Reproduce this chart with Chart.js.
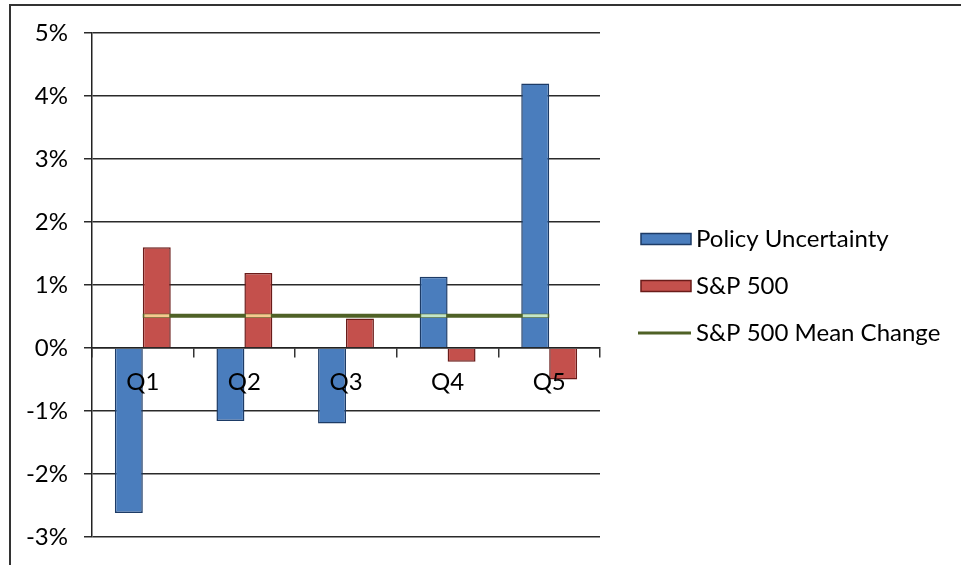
<!DOCTYPE html>
<html lang="en">
<head>
    <meta charset="UTF-8">
    <title>Policy Uncertainty vs S&amp;P 500</title>
    <script src="https://cdn.jsdelivr.net/npm/chart.js"></script>
    <style>
        html, body { margin: 0; padding: 0; background: #fff; }
        .wrap { position: relative; width: 961px; height: 565px; }
        .frame {
            position: absolute; left: 9px; top: 4px; right: 0; bottom: 0;
            border-left: 2px solid #333; border-top: 2px solid #333;
            pointer-events: none;
        }
    </style>
</head>
<body>
    <div class="wrap">
        <canvas id="quintileChart" width="961" height="565"></canvas>
        <div class="frame"></div>
    </div>

    <script>
        // quintile labels and % changes
        const quintiles = ['Q1', 'Q2', 'Q3', 'Q4', 'Q5'];
        const policyUncertainty = [-2.62, -1.16, -1.2, 1.13, 4.2];
        const sp500 = [1.6, 1.19, 0.47, -0.22, -0.5];
        const sp500Mean = [0.51, 0.51, 0.51, 0.51, 0.51];
        const yMin = -3;
        const yMax = 5;

        const textFont = { family: 'Lato', size: 24 };

        // light streak where the mean line crosses a bar
        const lineGlint = {
            id: 'lineGlint',
            afterDatasetsDraw(chart) {
                const c = chart.ctx;
                const pts = chart.getDatasetMeta(0).data;
                [[1, '#c4e6c8'], [2, '#f6c98f']].forEach(([idx, colour]) => {
                    chart.getDatasetMeta(idx).data.forEach(bar => {
                        const { x, y, base, width } = bar.getProps(['x', 'y', 'base', 'width'], true);
                        c.save();
                        c.beginPath();
                        c.rect(x - width / 2 + 1.5, Math.min(y, base), width - 3, Math.abs(base - y));
                        c.clip();
                        c.beginPath();
                        pts.forEach((p, i) => i ? c.lineTo(p.x, p.y) : c.moveTo(p.x, p.y));
                        c.strokeStyle = colour;
                        c.lineWidth = 3;
                        c.stroke();
                        c.restore();
                    });
                });
            }
        };

        // legend column to the right of the plot (built-in one is capped in width)
        const sideLegend = {
            id: 'sideLegend',
            afterDraw(chart) {
                const c = chart.ctx;
                const area = chart.chartArea;
                const left = area.right + 41;
                const midY = (area.top + area.bottom) / 2 + 1;
                const rowGap = 47;
                [1, 2, 0].forEach((idx, row) => {
                    const ds = chart.data.datasets[idx];
                    const y = Math.round(midY + (row - 1) * rowGap);
                    c.save();
                    if (ds.type === 'bar') {
                        c.fillStyle = ds.backgroundColor;
                        c.fillRect(left, y - 5.5, 50, 11);
                        c.strokeStyle = ds.borderColor;
                        c.lineWidth = 1.5;
                        c.strokeRect(left, y - 5.5, 50, 11);
                    } else {
                        c.strokeStyle = ds.borderColor;
                        c.lineWidth = 3;
                        c.beginPath();
                        c.moveTo(left - 3, y);
                        c.lineTo(left + 50, y);
                        c.stroke();
                    }
                    c.fillStyle = '#000';
                    c.font = textFont.size + 'px ' + textFont.family;
                    c.textBaseline = 'middle';
                    c.fillText(ds.label, left + 55, y);
                    c.restore();
                });
            }
        };

        function draw() {
            const ctx = document.getElementById('quintileChart').getContext('2d');
            new Chart(ctx, {
                data: {
                    labels: quintiles,
                    datasets: [
                        {
                            type: 'line',
                            label: 'S&P 500 Mean Change',
                            data: sp500Mean,
                            borderColor: '#4f6126',
                            backgroundColor: '#4f6126',
                            borderWidth: 4,
                            pointRadius: 0,
                            order: 0
                        },
                        {
                            type: 'bar',
                            label: 'Policy Uncertainty',
                            data: policyUncertainty,
                            backgroundColor: '#4a7dbd',
                            borderColor: '#1d3b66',
                            borderWidth: 1.5,
                            order: 1
                        },
                        {
                            type: 'bar',
                            label: 'S&P 500',
                            data: sp500,
                            backgroundColor: '#c4504c',
                            borderColor: '#6a1b19',
                            borderWidth: 1.5,
                            order: 2
                        }
                    ]
                },
                options: {
                    responsive: false,
                    animation: false,
                    layout: { padding: { left: 10, top: 33, bottom: 28, right: 361 } },
                    datasets: {
                        bar: { categoryPercentage: 0.55, barPercentage: 1 }
                    },
                    scales: {
                        x: {
                            position: { y: 0 },
                            offset: true,
                            grid: {
                                offset: true,
                                drawOnChartArea: false,
                                drawTicks: true,
                                tickLength: 9,
                                color: '#333',
                                lineWidth: 1.5
                            },
                            border: { color: '#222', width: 1.5 },
                            ticks: { z: 1, color: '#000', font: textFont, padding: 11, maxRotation: 0 },
                            afterFit: scale => { scale.paddingTop = 0; scale.paddingBottom = 0; }
                        },
                        y: {
                            min: yMin,
                            max: yMax,
                            ticks: {
                                stepSize: 1,
                                color: '#000',
                                font: textFont,
                                padding: 16,
                                callback: v => v + '%'
                            },
                            grid: { color: '#2a2a2a', lineWidth: 1.5, tickLength: 8 },
                            border: { color: '#222', width: 1.5 },
                            afterFit: scale => {
                                scale.width = 82;
                                scale.paddingTop = 0;
                                scale.paddingBottom = 0;
                            }
                        }
                    },
                    plugins: {
                        legend: { display: false },
                        tooltip: { enabled: false }
                    }
                },
                plugins: [lineGlint, sideLegend]
            });
        }

        document.fonts.load('24px Lato').then(draw, draw);
    </script>
</body>
</html>
